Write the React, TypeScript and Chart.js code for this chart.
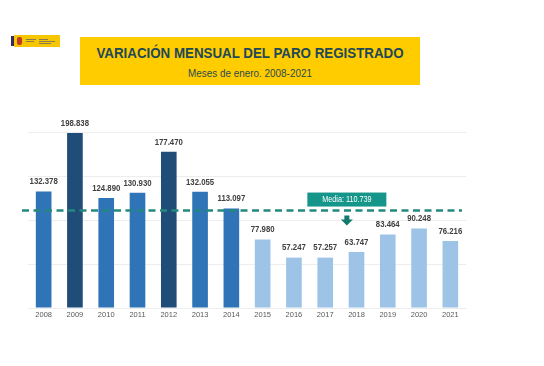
import React, { useEffect, useRef } from "react";
import { Chart, registerables } from "chart.js";

Chart.register(...registerables);

const years = ["2008", "2009", "2010", "2011", "2012", "2013", "2014", "2015", "2016", "2017", "2018", "2019", "2020", "2021"];
const values = [132378, 198838, 124890, 130930, 177470, 132055, 113097, 77980, 57247, 57257, 63747, 83464, 90248, 76216];
const barColors = [
  "#2E74B7", "#1F4D78", "#2E74B7", "#2E74B7", "#1F4D78", "#2E74B7", "#2E74B7",
  "#9DC3E6", "#9DC3E6", "#9DC3E6", "#9DC3E6", "#9DC3E6", "#9DC3E6", "#9DC3E6",
];
const mediaValue = 110739;
const mediaLabel = "Media: 110.739";

const fmt = (v: number) => v.toString().replace(/\B(?=(\d{3})+(?!\d))/g, ".");

// Value labels above each bar, drawn slightly condensed
const valueLabels = {
  id: "valueLabels",
  afterDatasetsDraw(chart: any) {
    const ctx = chart.ctx;
    const meta = chart.getDatasetMeta(0);
    ctx.save();
    ctx.fillStyle = "#404040";
    ctx.font = "bold 9.5px 'Liberation Sans', Arial, sans-serif";
    ctx.textAlign = "center";
    ctx.textBaseline = "bottom";
    meta.data.forEach((bar: any, i: number) => {
      ctx.save();
      ctx.translate(bar.x, bar.y - 5);
      ctx.scale(0.82, 1);
      ctx.fillText(fmt(values[i]), 0, 0);
      ctx.restore();
    });
    ctx.restore();
  },
};

// Dashed average line with its tag and a down arrow
const mediaLine = {
  id: "mediaLine",
  afterDatasetsDraw(chart: any) {
    const ctx = chart.ctx;
    const y = chart.scales.y.getPixelForValue(mediaValue);
    const xs = chart.scales.x;
    const area = chart.chartArea;
    ctx.save();
    ctx.strokeStyle = "#23897D";
    ctx.lineWidth = 2.5;
    ctx.setLineDash([7, 4.5]);
    ctx.beginPath();
    ctx.moveTo(area.left - 6, y);
    ctx.lineTo(area.right - 4, y);
    ctx.stroke();
    ctx.setLineDash([]);

    const cx = (xs.getPixelForValue(9) + xs.getPixelForValue(10)) / 2 + 6;
    const bw = 79;
    const bh = 14;
    ctx.fillStyle = "#16968A";
    ctx.fillRect(cx - bw / 2, y - 4 - bh, bw, bh);
    ctx.fillStyle = "#ffffff";
    ctx.font = "8.5px 'Liberation Sans', Arial, sans-serif";
    ctx.textAlign = "center";
    ctx.textBaseline = "middle";
    ctx.save();
    ctx.translate(cx, y - 4 - bh / 2 + 0.5);
    ctx.scale(0.85, 1);
    ctx.fillText(mediaLabel, 0, 0);
    ctx.restore();

    // down arrow
    const top = y + 5;
    ctx.fillStyle = "#12796E";
    ctx.beginPath();
    ctx.moveTo(cx - 2.5, top);
    ctx.lineTo(cx + 2.5, top);
    ctx.lineTo(cx + 2.5, top + 4);
    ctx.lineTo(cx + 6, top + 4);
    ctx.lineTo(cx, top + 10);
    ctx.lineTo(cx - 6, top + 4);
    ctx.lineTo(cx - 2.5, top + 4);
    ctx.closePath();
    ctx.fill();
    ctx.restore();
  },
};

function Logo() {
  return (
    <div style={{ position: "absolute", left: 11, top: 35, width: 48, height: 12 }}>
      <div style={{ position: "absolute", left: 0, top: 1, width: 2.5, height: 10, background: "#3B2A5E" }} />
      <div style={{ position: "absolute", left: 2.5, top: 0, width: 46, height: 12, background: "#F6C600" }} />
      <div style={{ position: "absolute", left: 6, top: 2, width: 5, height: 8, background: "#C0392B", borderRadius: 2 }} />
      <div style={{ position: "absolute", left: 15, top: 4, width: 10, height: 1, background: "#8a7a50" }} />
      <div style={{ position: "absolute", left: 15, top: 6, width: 8, height: 1, background: "#8a7a50" }} />
      <div style={{ position: "absolute", left: 28, top: 4, width: 9, height: 1, background: "#8a7a50" }} />
      <div style={{ position: "absolute", left: 28, top: 6, width: 16, height: 1, background: "#8a7a50" }} />
      <div style={{ position: "absolute", left: 28, top: 8, width: 12, height: 1, background: "#8a7a50" }} />
    </div>
  );
}

export default function App() {
  const ref = useRef<HTMLCanvasElement>(null);

  useEffect(() => {
    if (!ref.current) return;
    const chart = new Chart(ref.current, {
      type: "bar",
      data: {
        labels: years,
        datasets: [
          {
            data: values,
            backgroundColor: barColors,
            barPercentage: 0.5,
            categoryPercentage: 1,
          },
        ],
      },
      options: {
        animation: false,
        responsive: false,
        maintainAspectRatio: false,
        layout: { padding: { left: 28, right: 78, top: 32, bottom: 9 } },
        plugins: { legend: { display: false }, tooltip: { enabled: false } },
        scales: {
          x: {
            grid: { display: false, drawTicks: false },
            border: { display: false },
            ticks: {
              color: "#595959",
              font: { size: 7.5, family: "'Liberation Sans', Arial, sans-serif" },
              padding: 2,
              maxRotation: 0,
            },
          },
          y: {
            min: 0,
            max: 200000,
            ticks: { display: false, stepSize: 50000 },
            grid: { color: "rgba(0,0,0,0.07)", drawTicks: false },
            border: { display: false },
          },
        },
      },
      plugins: [valueLabels, mediaLine],
    });
    return () => chart.destroy();
  }, []);

  return (
    <div style={{ position: "fixed", left: 0, top: 0, width: 544, height: 366, background: "#ffffff", overflow: "hidden" }}>
      <Logo />
      <div
        style={{
          position: "absolute",
          left: 80,
          top: 37,
          width: 340,
          height: 48,
          background: "#FFCC00",
          fontFamily: "'Liberation Sans', Arial, sans-serif",
          textAlign: "center",
        }}
      >
        <div
          style={{
            position: "absolute",
            left: -60,
            width: 460,
            top: 7,
            fontSize: 15.5,
            fontWeight: "bold",
            color: "#1E4858",
            transform: "scaleX(0.86)",
            whiteSpace: "nowrap",
            lineHeight: "18px",
          }}
        >
          VARIACIÓN MENSUAL DEL PARO REGISTRADO
        </div>
        <div
          style={{
            position: "absolute",
            left: -60,
            width: 460,
            top: 30,
            fontSize: 11,
            color: "#2B4A50",
            transform: "scaleX(0.9)",
            whiteSpace: "nowrap",
            lineHeight: "13px",
          }}
        >
          Meses de enero. 2008-2021
        </div>
      </div>
      <canvas ref={ref} width={544} height={230} style={{ position: "absolute", left: 0, top: 100, width: 544, height: 230 }} />
    </div>
  );
}
